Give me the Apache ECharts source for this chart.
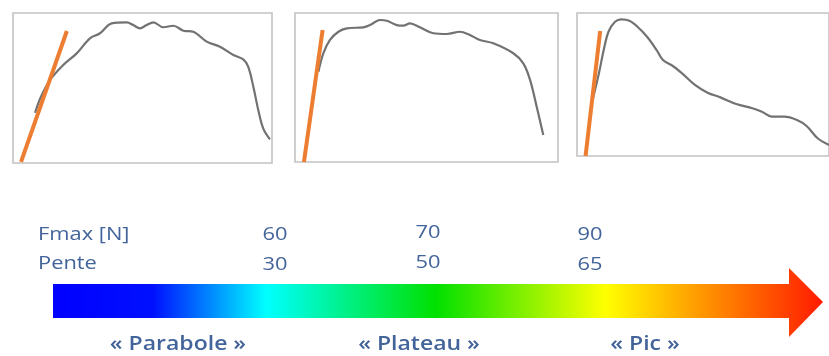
<!DOCTYPE html>
<html>
<head>
<meta charset="utf-8">
<script src="https://cdn.jsdelivr.net/npm/echarts@6/dist/echarts.min.js"></script>
<style>html,body{margin:0;padding:0;background:#fff}#c{width:829px;height:356px}</style>
</head>
<body>
<div id="c"></div>
<script>
// ---- data (normalised 0..100 inside each panel) ----
var curveParabole = [[8.5,33.5],[10.8,44.2],[14.3,55.3],[19.4,65.3],[24.6,73.1],[29.7,83.1],[33.6,86.5],[38.1,93.1],[43.9,93.8],[46.4,92.0],[49.0,89.8],[51.6,92.0],[54.2,93.8],[58.0,90.5],[61.9,91.5],[65.8,88.2],[69.6,87.5],[74.8,80.9],[79.9,77.5],[85.1,72.0],[88.9,69.1],[90.8,64.2],[92.8,50.9],[94.7,35.3],[96.6,23.1],[99.2,15.8]];
var curvePlateau = [[8.9,60.6],[10.8,73.0],[13.3,81.9],[16.5,87.4],[19.7,89.7],[26.0,90.4],[28.5,91.9],[32.3,95.3],[34.9,94.8],[38.7,91.9],[41.2,91.5],[43.7,93.1],[47.5,90.4],[52.6,86.4],[57.7,85.9],[62.7,87.4],[66.5,85.2],[70.3,81.9],[75.4,79.7],[83.0,73.0],[86.8,66.2],[89.4,55.0],[91.9,37.1],[94.4,18.1]];
var curvePic = [[6.2,39.2],[8.7,57.8],[10.6,74.1],[12.5,86.9],[15.1,93.9],[17.6,95.6],[20.8,94.6],[24.0,90.4],[27.8,83.4],[31.6,74.1],[34.1,67.1],[37.9,63.1],[41.7,57.8],[46.8,49.7],[51.8,44.3],[56.9,41.0],[63.2,36.4],[69.6,33.4],[73.4,31.0],[77.2,27.5],[82.2,27.5],[87.3,25.2],[91.1,21.0],[95.5,12.4],[100,7.7]];
var slopeParabole = [[3.1,0.7],[20.8,88]];
var slopePlateau = [[3.4,0],[10.5,88.6]];
var slopePic = [[3.4,0],[9.2,87.4]];
var rowLabels = ['Fmax [N]', 'Pente'];
var fmaxValues = ['60', '70', '90'];
var penteValues = ['30', '50', '65'];
var typeLabels = ['« Parabole »', '« Plateau »', '« Pic »'];

// ---- layout ----
var panels = [
  {left:13, top:13, width:259, height:150},
  {left:295, top:13, width:263, height:149},
  {left:577, top:13, width:263, height:143}
];
var curves = [curveParabole, curvePlateau, curvePic];
var slopes = [slopeParabole, slopePlateau, slopePic];
var valueX = [275, 428, 590];
var rowY = [235, 264];
var valueDy = [[0, -2, 0], [1, -1, 1]];
var typeX = [178, 419, 645];
var typeY = 344;
var textColor = '#43649a';
var font = '"Open Sans", sans-serif';
var stretch = 1.15;

var grids = [], xAxes = [], yAxes = [], series = [];
panels.forEach(function(p, i){
  grids.push({left:p.left, top:p.top, width:p.width, height:p.height, show:true, borderColor:'#c2c2c2', borderWidth:1.6, backgroundColor:'#fff'});
  var ax = {gridIndex:i, type:'value', min:0, max:100, axisLine:{show:false}, axisTick:{show:false}, axisLabel:{show:false}, splitLine:{show:false}};
  xAxes.push(Object.assign({}, ax));
  yAxes.push(Object.assign({}, ax));
  series.push({type:'line', xAxisIndex:i, yAxisIndex:i, data:curves[i], smooth:0.35, symbol:'none', lineStyle:{color:'#727272', width:2.2}, z:2});
  series.push({type:'line', xAxisIndex:i, yAxisIndex:i, data:slopes[i], symbol:'none', lineStyle:{color:'#ed7d31', width:4}, z:3});
});

var graphic = [];
graphic.push({
  type:'polygon',
  shape:{points:[[53,284],[789,284],[789,268],[823,302],[789,337],[789,318],[53,318]]},
  style:{fill:new echarts.graphic.LinearGradient(0,0,1,0,[
    {offset:0, color:'#0000ff'},
    {offset:0.13, color:'#0010ff'},
    {offset:0.277, color:'#00ffff'},
    {offset:0.497, color:'#00e000'},
    {offset:0.718, color:'#ffff00'},
    {offset:0.84, color:'#ff9900'},
    {offset:1, color:'#ff1a00'}
  ])}
});
rowLabels.forEach(function(t, r){
  graphic.push({type:'text', x:38, y:rowY[r], scaleX:stretch, style:{text:t, fill:textColor, font:'500 19px ' + font, textAlign:'left', textVerticalAlign:'middle'}});
});
[fmaxValues, penteValues].forEach(function(arr, r){
  arr.forEach(function(t, k){
    graphic.push({type:'text', x:valueX[k], y:rowY[r] + valueDy[r][k], scaleX:stretch, style:{text:t, fill:textColor, font:'500 19px ' + font, textAlign:'center', textVerticalAlign:'middle'}});
  });
});
typeLabels.forEach(function(t, k){
  graphic.push({type:'text', x:typeX[k], y:typeY, scaleX:stretch, style:{text:t, fill:textColor, font:'600 20px ' + font, textAlign:'center', textVerticalAlign:'middle'}});
});

var chart = echarts.init(document.getElementById('c'));
chart.setOption({
  animation:false,
  grid:grids, xAxis:xAxes, yAxis:yAxes, series:series, graphic:graphic
});
</script>
</body>
</html>
